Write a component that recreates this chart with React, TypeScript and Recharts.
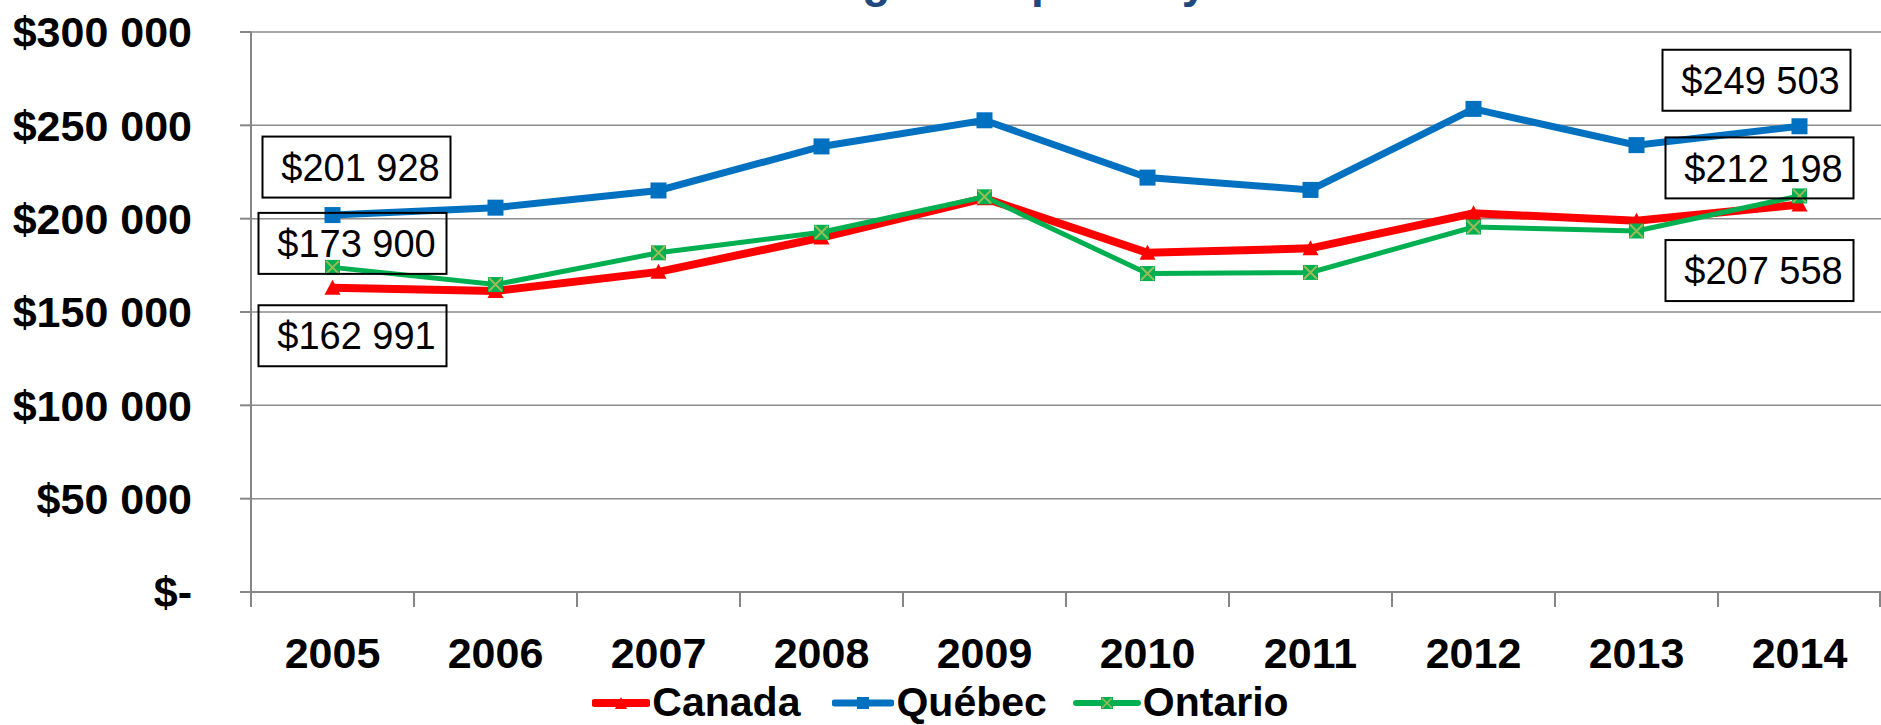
import React from 'react';
import { LineChart, Line, XAxis, YAxis, CartesianGrid, Legend, LabelList } from 'recharts';

// ---- data ----
const years = ['2005', '2006', '2007', '2008', '2009', '2010', '2011', '2012', '2013', '2014'];
const canada = [162991, 161300, 171500, 189900, 211000, 181700, 184100, 202900, 198900, 207558];
const quebec = [201928, 205900, 215100, 238700, 252700, 222000, 215400, 258800, 239400, 249503];
const ontario = [173900, 164700, 181700, 192700, 211700, 170600, 171200, 195500, 193400, 212198];
const yTicks = [0, 50000, 100000, 150000, 200000, 250000, 300000];
const yTickLabels = ['$-', '$50 000', '$100 000', '$150 000', '$200 000', '$250 000', '$300 000'];
const seriesNames = ['Canada', 'Québec', 'Ontario'];
const seriesKeys = ['canada', 'quebec', 'ontario'];
const titleText = 'Average sale price by Year';

const data = years.map((y, i) => ({ year: y, canada: canada[i], quebec: quebec[i], ontario: ontario[i] }));

// ---- layout / style ----
const W = 1881;
const H = 725;
const MARGIN = { top: 32, right: 0, bottom: 5, left: 0 };
const Y_W = 251;
const BAND = (W - Y_W - MARGIN.right) / years.length;
const FONT = "'Liberation Sans', Arial, sans-serif";
const AXIS_GRAY = '#868686';
const COLORS = { canada: '#FF0000', quebec: '#0070C0', ontario: '#00B050' } as Record<string, string>;
const X_MARK = '#9BBB59';

// label box offsets (centre relative to the point) for first / last points
const LABEL_OFFSETS: Record<string, { first: [number, number]; last: [number, number] }> = {
  canada: { first: [20, 48], last: [-40, 66] },
  quebec: { first: [24, -48], last: [-43, -46] },
  ontario: { first: [20, -24], last: [-40, -28] },
};

const fmt = (v: number) => '$' + String(Math.round(v)).replace(/\B(?=(\d{3})+(?!\d))/g, ' ');

const makeLabel = (key: string) => (props: any) => {
  const x = props.x ?? props.viewBox?.x;
  const y = props.y ?? props.viewBox?.y;
  const { value, index } = props;
  if (x == null || y == null) return null;
  const cfg = LABEL_OFFSETS[key];
  let off: [number, number];
  if (index === 0) off = cfg.first;
  else if (index === years.length - 1) off = cfg.last;
  else return null;
  const cx = x + off[0];
  const cy = y + off[1];
  return (
    <g>
      <rect x={cx - 94} y={cy - 30.5} width={188} height={61} fill="none" stroke="#000" strokeWidth={2} />
      <text x={cx + 4} y={cy} dy="0.36em" textAnchor="middle" fontFamily={FONT} fontSize={38} fill="#000">
        {fmt(value)}
      </text>
    </g>
  );
};

const TriDot = (p: any) => {
  const { cx, cy } = p;
  if (cx == null || cy == null) return <g />;
  return <path d={`M${cx - 8},${cy + 7} L${cx + 8},${cy + 7} L${cx},${cy - 8} Z`} fill={COLORS.canada} />;
};
const SqDot = (p: any) => {
  const { cx, cy } = p;
  if (cx == null || cy == null) return <g />;
  return <rect x={cx - 8} y={cy - 8} width={16} height={16} fill={COLORS.quebec} />;
};
const XDot = (p: any) => {
  const { cx, cy } = p;
  if (cx == null || cy == null) return <g />;
  return (
    <g>
      <rect x={cx - 7.5} y={cy - 7.5} width={15} height={15} fill={COLORS.ontario} />
      <path d={`M${cx - 6.5},${cy - 6.5}L${cx + 6.5},${cy + 6.5}M${cx + 6.5},${cy - 6.5}L${cx - 6.5},${cy + 6.5}`} stroke={X_MARK} strokeWidth={2} />
    </g>
  );
};

const XTick = (p: any) => {
  const { x, y, payload, index } = p;
  const left = x - BAND / 2;
  return (
    <g>
      <line x1={left} y1={y} x2={left} y2={y + 15} stroke={AXIS_GRAY} strokeWidth={2} />
      {index === years.length - 1 ? (
        <line x1={x + BAND / 2 - 1} y1={y} x2={x + BAND / 2 - 1} y2={y + 15} stroke={AXIS_GRAY} strokeWidth={2} />
      ) : null}
      <text x={x} y={y + 45} dy="0.71em" textAnchor="middle" fontFamily={FONT} fontWeight={700} fontSize={43} fill="#000">
        {payload.value}
      </text>
    </g>
  );
};

const LegendIcon = ({ k, w }: { k: string; w: number }) => {
  const c = COLORS[k];
  const m = w / 2;
  const sw = k === 'canada' ? 8 : k === 'quebec' ? 7 : 6;
  return (
    <svg width={w} height={38} style={{ display: 'block' }}>
      <line x1={3} y1={21} x2={w - 3} y2={21} stroke={c} strokeWidth={sw} strokeLinecap="round" />
      {k === 'canada' ? <path d={`M${m - 6},${27} L${m + 6},${27} L${m},${15} Z`} fill={c} /> : null}
      {k === 'quebec' ? <rect x={m - 6} y={15} width={12} height={12} fill={c} /> : null}
      {k === 'ontario' ? (
        <g>
          <rect x={m - 6} y={15} width={12} height={12} fill={c} />
          <path d={`M${m - 5},16L${m + 5},26M${m + 5},16L${m - 5},26`} stroke={X_MARK} strokeWidth={1.5} />
        </g>
      ) : null}
    </svg>
  );
};

const LEGEND_ICON_W = [58, 62, 68];
const LEGEND_GAP = [32, 26, 0];

const LegendContent = () => (
  <div style={{ display: 'flex', justifyContent: 'center', alignItems: 'center', height: 38, width: W }}>
    {seriesKeys.map((k, i) => (
      <div key={k} style={{ display: 'flex', alignItems: 'center', marginRight: LEGEND_GAP[i] }}>
        <LegendIcon k={k} w={LEGEND_ICON_W[i]} />
        <span style={{ fontFamily: FONT, fontWeight: 700, fontSize: 41, lineHeight: '38px', color: '#000', marginLeft: 2, position: 'relative', top: 1 }}>
          {seriesNames[i]}
        </span>
      </div>
    ))}
  </div>
);

export default function App() {
  return (
    <div style={{ position: 'absolute', left: 0, top: 0, width: W, height: H, background: '#fff' }}>
      <LineChart width={W} height={H} data={data} margin={MARGIN}>
        <text x={736} y={-3} fontFamily={FONT} fontWeight={700} fontSize={46} fill="#1F497D">
          {titleText}
        </text>
        <CartesianGrid vertical={false} stroke="#8c8c8c" strokeWidth={1.5} />
        <XAxis
          dataKey="year"
          type="category"
          scale="band"
          interval={0}
          height={90}
          tickSize={0}
          tickMargin={0}
          tickLine={false}
          axisLine={{ stroke: AXIS_GRAY, strokeWidth: 2 }}
          tick={<XTick />}
        />
        <YAxis
          width={Y_W}
          domain={[0, 300000]}
          ticks={yTicks}
          interval={0}
          tickSize={11}
          tickMargin={48}
          tickFormatter={(v: number) => yTickLabels[yTicks.indexOf(v)] ?? ''}
          axisLine={{ stroke: AXIS_GRAY, strokeWidth: 2 }}
          tickLine={{ stroke: AXIS_GRAY, strokeWidth: 2 }}
          tick={{ fontFamily: FONT, fontWeight: 700, fontSize: 43, fill: '#000' }}
        />
        <Legend verticalAlign="bottom" height={38} content={<LegendContent />} wrapperStyle={{ left: 0, width: W }} />
        {seriesKeys.map((k) => (
          <Line
            key={'lbl-' + k}
            dataKey={k}
            stroke="none"
            dot={false}
            activeDot={false}
            legendType="none"
            isAnimationActive={false}
          >
            <LabelList dataKey={k} content={makeLabel(k)} />
          </Line>
        ))}
        <Line dataKey="canada" name="Canada" stroke={COLORS.canada} strokeWidth={8} dot={<TriDot />} activeDot={false} isAnimationActive={false} />
        <Line dataKey="quebec" name="Québec" stroke={COLORS.quebec} strokeWidth={7} dot={<SqDot />} activeDot={false} isAnimationActive={false} />
        <Line dataKey="ontario" name="Ontario" stroke={COLORS.ontario} strokeWidth={5} dot={<XDot />} activeDot={false} isAnimationActive={false} />
      </LineChart>
    </div>
  );
}
